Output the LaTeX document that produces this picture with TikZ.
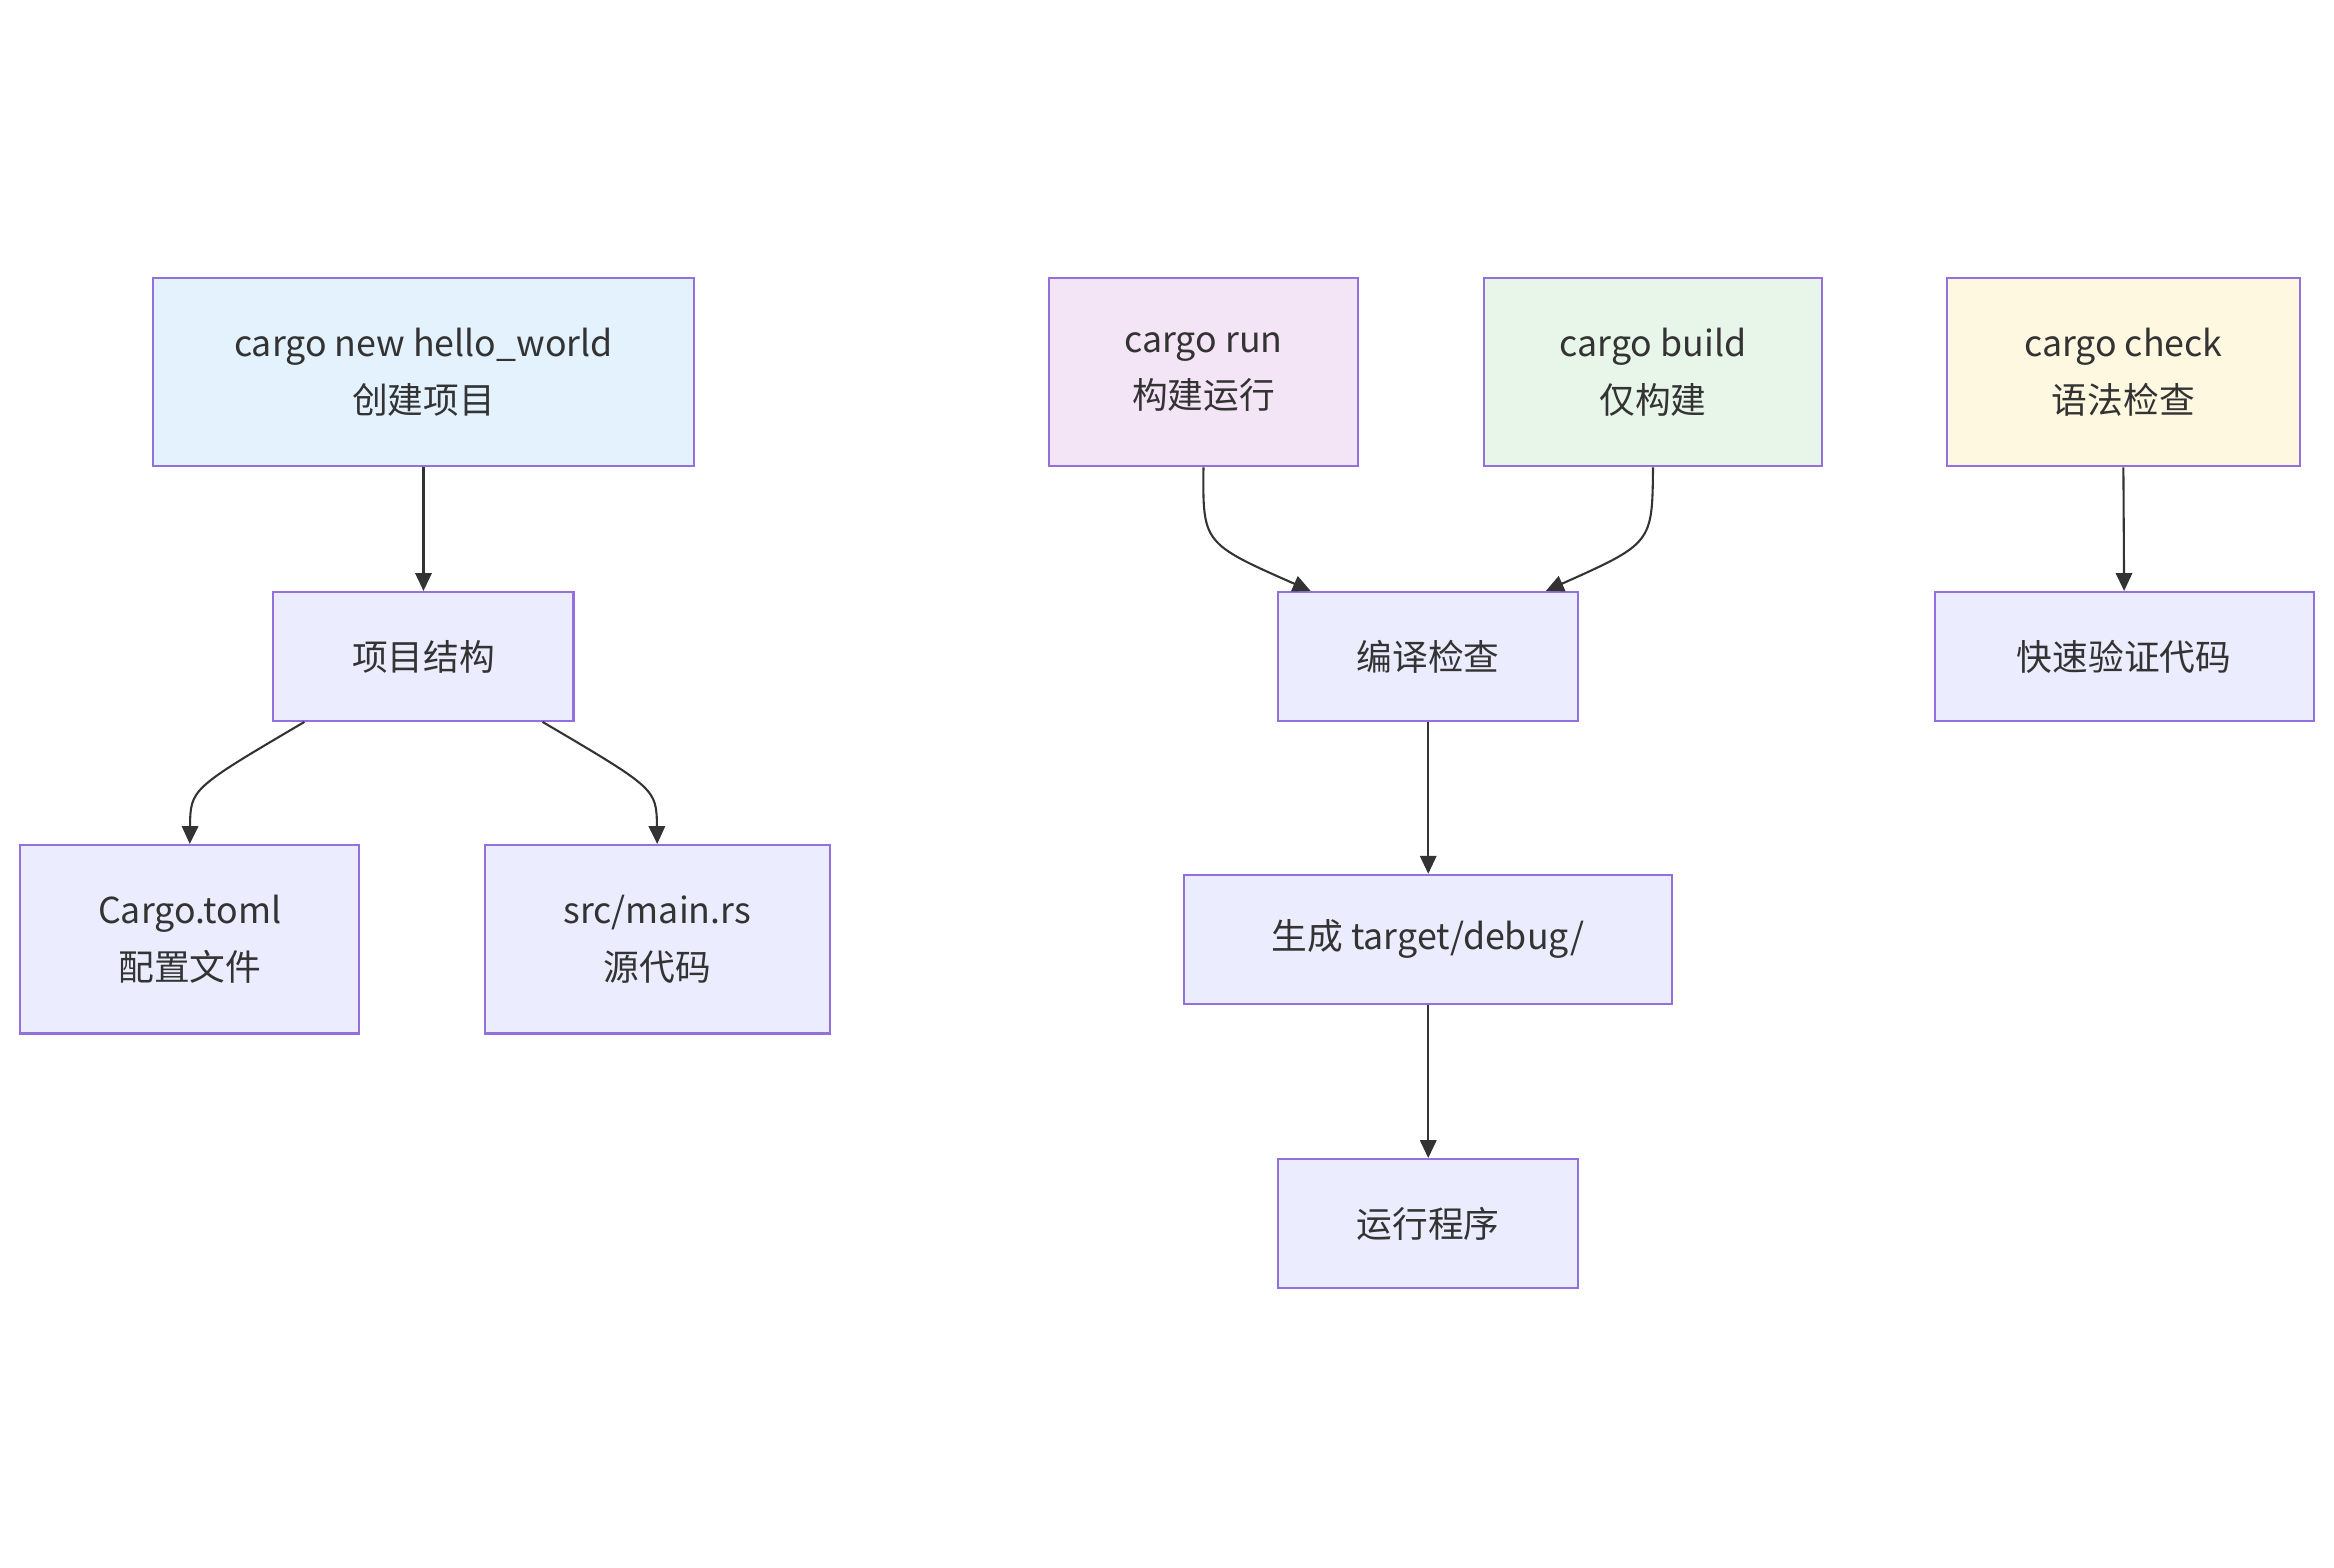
\documentclass[tikz,border=0pt]{standalone}
\usepackage{fontspec}
\setmainfont{Noto Sans CJK SC}
\usetikzlibrary{arrows.meta}
\definecolor{stk}{HTML}{9370DB}
\definecolor{df}{HTML}{ECECFF}
\definecolor{cA}{HTML}{E3F2FD}
\definecolor{cE}{HTML}{F3E5F5}
\definecolor{cF}{HTML}{E8F5E9}
\definecolor{cG}{HTML}{FFF8E1}
\definecolor{tx}{HTML}{333333}
\begin{document}
\begin{tikzpicture}[x=0.5pt,y=-0.5pt,
 box/.style={draw=stk,line width=0.7pt,fill=df,text=tx,align=center,inner sep=0pt,font=\fontsize{12}{19}\selectfont},
 ar/.style={draw=tx,line width=0.7pt,-{Triangle[length=6pt,width=5.5pt]}}]
\useasboundingbox (0,0) rectangle (1568,1053);
\newcommand{\bx}[7]{\node[box,fill=#7,minimum width=#4*0.5pt-0.7pt,minimum height=#5*0.5pt-0.7pt] (#1) at ({#2+#4/2},{#3+#5/2}) {#6};}
\bx{A}{102}{186}{365}{128}{cargo new hello\_world\\创建项目}{cA}
\bx{B}{183}{397}{203}{88}{项目结构}{df}
\bx{C}{13}{567}{229}{128}{Cargo.toml\\配置文件}{df}
\bx{D}{325}{567}{233}{128}{src/main.rs\\源代码}{df}
\bx{E}{704}{186}{209}{128}{cargo run\\构建运行}{cE}
\bx{F}{996}{186}{229}{128}{cargo build\\仅构建}{cF}
\bx{G}{1307}{186}{239}{128}{cargo check\\语法检查}{cG}
\bx{H}{858}{397}{203}{88}{编译检查}{df}
\bx{I}{1299}{397}{256}{88}{快速验证代码}{df}
\bx{J}{795}{587}{329}{88}{生成 target/debug/}{df}
\bx{K}{858}{778}{203}{88}{运行程序}{df}
\draw[ar] (A.south) -- (B.north);
\draw[ar] ([xshift=-40pt]B.south) .. controls (128,530) .. (C.north);
\draw[ar] ([xshift=40pt]B.south) .. controls (441,530) .. (D.north);
\draw[ar] (E.south) .. controls (808,365) .. ([xshift=-39.5pt]H.north);
\draw[ar] (F.south) .. controls (1110,365) .. ([xshift=39.5pt]H.north);
\draw[ar] (G.south) -- (I.north);
\draw[ar] (H.south) -- (J.north);
\draw[ar] (J.south) -- (K.north);
\end{tikzpicture}
\end{document}
